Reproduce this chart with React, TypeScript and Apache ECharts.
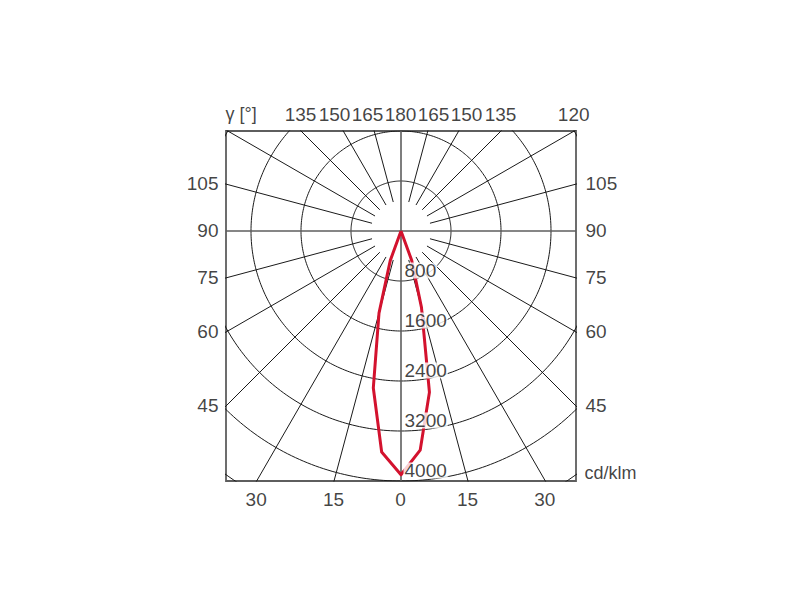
import React, { useEffect, useRef } from "react";
import * as echarts from "echarts";

// Luminous intensity (cd/klm) vs gamma angle, two half-planes
const gammaAngles = [0, 5, 10, 15, 20, 25, 30];
const intensityRight = [3900, 3520, 2620, 1265, 500, 0, 0];
const intensityLeft = [3900, 3550, 2550, 1360, 500, 0, 0];

// Polar grid
const circleValues = [800, 1600, 2400, 3200, 4000, 4800];
const circleLabels = [800, 1600, 2400, 3200, 4000];
const radialAngles = [15, 30, 45, 60, 75, 105, 120, 135, 150, 165];

// Tick labels around the frame (signed: negative = left half)
const bottomTicks = [-30, -15, 0, 15, 30];
const sideTicks = [45, 60, 75, 90, 105];
const topTicksRight = [180, 165, 150, 135, 120];
const topTicksLeft = [165, 150, 135];
const angleTitle = "γ [°]";
const unitTitle = "cd/klm";

// Visible window in cd/klm
const X_HALF = 2800;
const Y_BOTTOM = -4000;
const Y_TOP = 1600;

const DEG = Math.PI / 180;
const pt = (g: number, r: number, side: number): [number, number] => [
  side * r * Math.sin(g * DEG),
  -r * Math.cos(g * DEG),
];

const FONT = {
  color: "#111111",
  fontFamily: "Liberation Sans, Arial, sans-serif",
  fontSize: 19,
};

export default function App() {
  const ref = useRef<HTMLDivElement>(null);

  useEffect(() => {
    if (!ref.current) return;
    const chart = echarts.init(ref.current, undefined, { renderer: "svg" });

    const series: any[] = [];
    const gridLine = { color: "#1a1a1a", width: 1 };

    // circles
    circleValues.forEach((r) => {
      const d: [number, number][] = [];
      for (let a = 0; a <= 360; a += 1) d.push(pt(a, r, 1));
      series.push({
        type: "line",
        data: d,
        symbol: "none",
        silent: true,
        clip: true,
        z: 2,
        lineStyle: gridLine,
      });
    });

    // radial lines
    radialAngles.forEach((a) => {
      [-1, 1].forEach((s) => {
        series.push({
          type: "line",
          data: [pt(a, 480, s), pt(a, 9000, s)],
          symbol: "none",
          silent: true,
          clip: true,
          z: 2,
          lineStyle: gridLine,
        });
      });
    });

    // center cross
    const cross = { color: "#5e5e5e", width: 1.6 };
    series.push({
      type: "line",
      data: [[-X_HALF, 0], [X_HALF, 0]],
      symbol: "none",
      silent: true,
      z: 2,
      lineStyle: cross,
    });
    series.push({
      type: "line",
      data: [[0, Y_BOTTOM], [0, Y_TOP]],
      symbol: "none",
      silent: true,
      z: 2,
      lineStyle: cross,
    });

    // intensity curve
    const curve: [number, number][] = [];
    for (let i = gammaAngles.length - 1; i >= 0; i--)
      curve.push(pt(gammaAngles[i], intensityLeft[i], -1));
    for (let i = 1; i < gammaAngles.length; i++)
      curve.push(pt(gammaAngles[i], intensityRight[i], 1));
    series.push({
      type: "line",
      data: curve,
      symbol: "none",
      silent: true,
      z: 3,
      lineStyle: { color: "#d3122e", width: 3, join: "round" },
    });

    // labels
    const labels: any[] = [];
    const add = (x: number, y: number, text: string, label: any) =>
      labels.push({ value: [x, y], label: { show: true, formatter: text, ...FONT, ...label } });

    bottomTicks.forEach((t) => {
      const x = Math.sign(t) * Math.abs(Y_BOTTOM) * Math.tan(Math.abs(t) * DEG);
      add(x, Y_BOTTOM, String(Math.abs(t)), { position: [0, 19], align: "center", verticalAlign: "middle" });
    });
    sideTicks.forEach((t) => {
      const y = -X_HALF * Math.cos(t * DEG) / Math.sin(t * DEG);
      add(-X_HALF, y, String(t), { position: [-7, 0], align: "right", verticalAlign: "middle" });
      add(X_HALF, y, String(t), { position: [10, 0], align: "left", verticalAlign: "middle" });
    });
    const gap = 528; // min spacing of top labels
    const spread = (angles: number[], start: number) => {
      let prev = start;
      return angles.map((a) => {
        const ideal = Y_TOP * Math.abs(Math.tan(a * DEG));
        const x = Math.max(ideal, prev + gap);
        prev = x;
        return x;
      });
    };
    const rightX = spread(topTicksRight, -Infinity);
    topTicksRight.forEach((a, i) =>
      add(rightX[i], Y_TOP, String(a), { position: [0, -16.5], align: "center", verticalAlign: "middle" })
    );
    const leftX = spread(topTicksLeft, 0);
    topTicksLeft.forEach((a, i) =>
      add(-leftX[i], Y_TOP, String(a), { position: [0, -16.5], align: "center", verticalAlign: "middle" })
    );
    add(-X_HALF, Y_TOP, angleTitle, { position: [0, -16.5], align: "left", verticalAlign: "middle", fontSize: 18 });
    add(X_HALF, Y_BOTTOM, unitTitle, { position: [9, -8], align: "left", verticalAlign: "middle", fontSize: 18 });
    circleLabels.forEach((v) =>
      add(0, -v, String(v), {
        position: [3, -2],
        align: "left",
        verticalAlign: "bottom",
        backgroundColor: "#ffffff",
        padding: [0, 1, 0, 1],
        lineHeight: 16,
      })
    );

    series.push({
      type: "scatter",
      data: labels,
      symbolSize: 1,
      itemStyle: { color: "rgba(0,0,0,0)" },
      silent: true,
      clip: false,
      z: 10,
      emphasis: { disabled: true },
    });

    chart.setOption({
      animation: false,
      backgroundColor: "#ffffff",
      grid: {
        left: 226,
        top: 131,
        width: 350,
        height: 350,
        show: true,
        borderColor: "#5e5e5e",
        borderWidth: 1.8,
        backgroundColor: "transparent",
      },
      xAxis: { type: "value", min: -X_HALF, max: X_HALF, show: false },
      yAxis: { type: "value", min: Y_BOTTOM, max: Y_TOP, show: false },
      series,
    });

    return () => chart.dispose();
  }, []);

  return (
    <div
      ref={ref}
      style={{ position: "fixed", left: 0, top: 0, width: 800, height: 600, background: "#fff" }}
    />
  );
}
